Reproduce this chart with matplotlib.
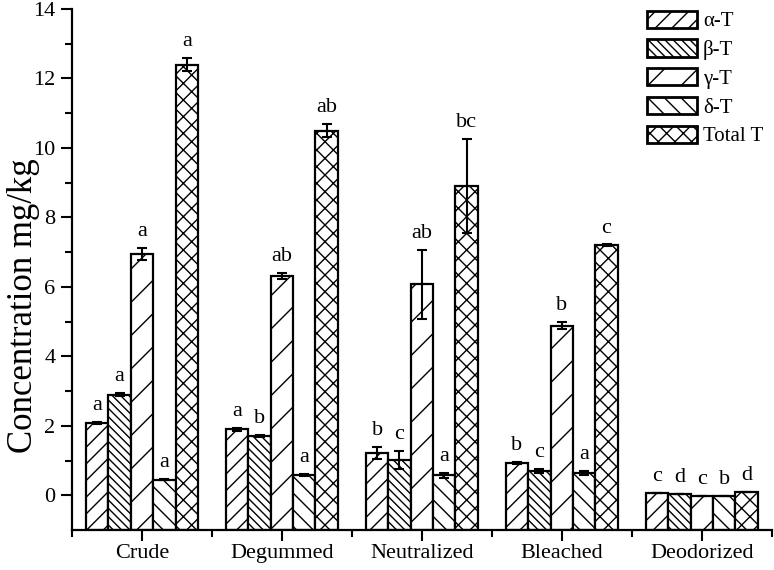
import matplotlib
matplotlib.use("Agg")
import matplotlib.pyplot as plt
import numpy as np

stages = ["Crude", "Degummed", "Neutralized", "Bleached", "Deodorized"]
series = ["α-T", "β-T", "γ-T", "δ-T", "Total T"]

alpha_T = [2.07, 1.90, 1.22, 0.93, 0.07]
beta_T = [2.90, 1.70, 1.02, 0.70, 0.05]
gamma_T = [6.95, 6.32, 6.07, 4.88, -0.02]
delta_T = [0.45, 0.58, 0.57, 0.65, -0.02]
total_T = [12.40, 10.50, 8.90, 7.20, 0.10]

alpha_err = [0.03, 0.04, 0.18, 0.03, 0.0]
beta_err = [0.05, 0.03, 0.25, 0.05, 0.0]
gamma_err = [0.18, 0.08, 1.00, 0.10, 0.0]
delta_err = [0.02, 0.03, 0.07, 0.06, 0.0]
total_err = [0.18, 0.18, 1.35, 0.02, 0.0]

alpha_lab = ["a", "a", "b", "b", "c"]
beta_lab = ["a", "b", "c", "c", "d"]
gamma_lab = ["a", "ab", "ab", "b", "c"]
delta_lab = ["a", "a", "a", "a", "b"]
total_lab = ["a", "ab", "bc", "c", "d"]

values = [alpha_T, beta_T, gamma_T, delta_T, total_T]
errors = [alpha_err, beta_err, gamma_err, delta_err, total_err]
labels = [alpha_lab, beta_lab, gamma_lab, delta_lab, total_lab]
hatches = ["//", "\\\\\\\\", "/", "\\\\", "xx"]

plt.rcParams["font.family"] = ["Liberation Serif", "DejaVu Serif"]
plt.rcParams["hatch.linewidth"] = 1.0

fig = plt.figure(figsize=(7.74, 5.70), dpi=100)
ax = fig.add_axes([0.093, 0.0702, 0.904, 0.914])

base = -1.0
width = 0.16
x = np.arange(len(stages))
for i, (vals, errs, labs, h, name) in enumerate(zip(values, errors, labels, hatches, series)):
    pos = x + (i - 2) * width
    heights = np.array(vals) - base
    ax.bar(pos, heights, width, bottom=base, facecolor="white", edgecolor="black",
           linewidth=1.6, hatch=h, label=name, zorder=2)
    ax.errorbar(pos, vals, yerr=errs, fmt="none", ecolor="black", elinewidth=1.5,
                capsize=3.5, capthick=1.5, zorder=3)
    for p, v, e, t in zip(pos, vals, errs, labs):
        ax.text(p, v + e + 0.2, t, ha="center", va="bottom", fontsize=16)

ax.set_xlim(-0.5, 4.5)
ax.set_ylim(-1, 14)
ax.set_yticks(np.arange(0, 15, 2))
ax.set_yticks(np.arange(1, 14, 2), minor=True)
ax.set_xticks(x)
ax.set_xticklabels(stages)
ax.set_xticks(np.arange(-0.5, 5, 1), minor=True)
ax.tick_params(axis="both", which="major", labelsize=16, width=1.5, length=8, direction="out")
ax.tick_params(axis="both", which="minor", width=1.5, length=5, direction="out")
ax.tick_params(axis="x", which="major", pad=2)
ax.tick_params(axis="y", which="major", pad=4)

for s in ["top", "right"]:
    ax.spines[s].set_visible(False)
for s in ["left", "bottom"]:
    ax.spines[s].set_linewidth(1.6)

ax.set_ylabel("Concentration mg/kg", fontsize=25, va="center")
ax.yaxis.set_label_coords(-0.070, 0.43)

leg = ax.legend(loc="upper right", bbox_to_anchor=(1.0, 1.013), frameon=False, fontsize=15,
                handlelength=2.4, handleheight=0.9, labelspacing=0.38, handletextpad=0.3,
                borderaxespad=0.0)
for patch in leg.get_patches():
    patch.set_linewidth(2.0)

fig.savefig("out.png", dpi=100)
